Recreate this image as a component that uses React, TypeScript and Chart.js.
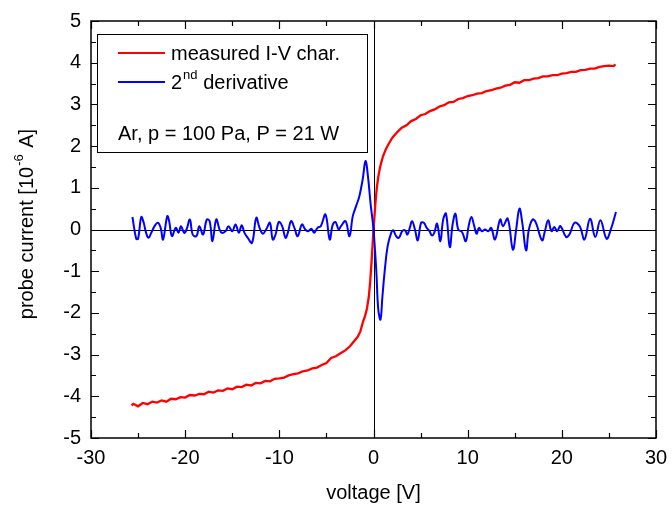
import React, { useEffect, useRef } from "react";
import { Chart, registerables } from "chart.js";

Chart.register(...registerables);

// Measured I-V characteristic (voltage [V], current [1e-6 A])
const ivVoltage = [
  -25.7, -25.5, -25.0, -24.5, -24.0, -23.5, -23.0, -22.5, -22.0, -21.5, -21.0, -20.5, -20.0,
  -19.5, -19.0, -18.5, -18.0, -17.5, -17.0, -16.5, -16.0, -15.5, -15.0, -14.5, -14.0, -13.5,
  -13.0, -12.5, -12.0, -11.5, -11.0, -10.5, -10.0, -9.5, -9.0, -8.5, -8.0, -7.5, -7.0, -6.5,
  -6.0, -5.5, -5.0, -4.5, -4.0, -3.5, -3.0, -2.5, -2.0, -1.7, -1.4, -1.1, -0.9, -0.7, -0.5,
  -0.35, -0.2, -0.1, 0.0, 0.1, 0.2, 0.35, 0.5, 0.7, 1.0, 1.3, 1.6, 2.0, 2.5, 3.0, 3.5, 4.0,
  4.5, 5.0, 5.5, 6.0, 6.5, 7.0, 7.5, 8.0, 8.5, 9.0, 9.5, 10.0, 10.5, 11.0, 11.5, 12.0, 12.5,
  13.0, 13.5, 14.0, 14.5, 15.0, 15.5, 16.0, 16.5, 17.0, 17.5, 18.0, 18.5, 19.0, 19.5, 20.0,
  20.5, 21.0, 21.5, 22.0, 22.5, 23.0, 23.5, 24.0, 24.5, 25.0, 25.5, 25.7,
];
const ivCurrent = [
  -4.22, -4.18, -4.24, -4.16, -4.19, -4.13, -4.15, -4.1, -4.13, -4.06, -4.07, -4.02, -4.03,
  -3.97, -3.98, -3.94, -3.95, -3.89, -3.91, -3.86, -3.87, -3.81, -3.83, -3.77, -3.78, -3.72,
  -3.74, -3.68, -3.69, -3.63, -3.64, -3.58, -3.57, -3.55, -3.5, -3.47, -3.45, -3.4, -3.38, -3.33,
  -3.31, -3.25, -3.2, -3.08, -3.04, -2.97, -2.9, -2.8, -2.66, -2.58, -2.45, -2.2, -2.08, -1.9, -1.62,
  -1.25, -0.75, -0.38, 0.0, 0.3, 0.62, 1.0, 1.25, 1.5, 1.75, 1.92, 2.05, 2.2, 2.33, 2.44, 2.5, 2.6,
  2.65, 2.74, 2.77, 2.84, 2.88, 2.95, 2.98, 3.05, 3.06, 3.13, 3.15, 3.2, 3.22, 3.26, 3.27, 3.32, 3.34,
  3.38, 3.4, 3.45, 3.47, 3.53, 3.52, 3.58, 3.58, 3.62, 3.63, 3.67, 3.67, 3.7, 3.7, 3.74,
  3.75, 3.78, 3.78, 3.82, 3.83, 3.86, 3.86, 3.9, 3.92, 3.93, 3.92, 3.96,
];

// Second derivative (scaled)
const d2Voltage = [
  -25.6, -25.2, -25.0, -24.66, -24.4, -24.2, -23.9, -23.6, -23.25, -22.9, -22.6, -22.35, -21.9,
  -21.7, -21.4, -21.0, -20.7, -20.45, -20.1, -19.85, -19.5, -19.2, -18.8, -18.5, -18.1, -17.7,
  -17.4, -17.1, -16.7, -16.35, -16.1, -15.7, -15.4, -15.0, -14.65, -14.3, -14.0, -13.7, -13.35,
  -12.9, -12.45, -12.1, -11.75, -11.4, -11.0, -10.7, -10.4, -10.05, -9.7, -9.35, -9.1, -8.75,
  -8.4, -8.05, -7.6, -7.25, -6.95, -6.6, -6.3, -5.95, -5.6, -5.1, -4.65, -4.35, -4.05, -3.85,
  -3.7, -3.45, -2.97, -2.55, -2.2, -1.85, -1.5, -1.15, -0.85, -0.6, -0.3, 0.0, 0.3, 0.5, 0.74,
  0.95, 1.17, 1.5, 1.88, 2.1, 2.4, 2.7, 3.05, 3.35, 3.6, 3.85, 4.1, 4.4, 4.7, 5.05, 5.35, 5.65,
  5.95, 6.2, 6.45, 6.75, 7.1, 7.4, 7.7, 8.1, 8.4, 8.7, 9.0, 9.4, 9.8, 10.1, 10.4, 10.7, 10.95,
  11.2, 11.5, 11.85, 12.2, 12.5, 12.9, 13.45, 13.75, 14.25, 14.8, 15.15, 15.5, 15.8, 16.2, 16.5,
  16.9, 17.25, 17.9, 18.2, 18.55, 18.9, 19.2, 19.5, 19.85, 20.45, 20.8, 21.35, 21.9, 22.4, 23.0,
  23.55, 24.1, 24.75, 25.2, 25.75,
];
const d2Value = [
  0.3, -0.22, -0.22, 0.3, 0.16, -0.04, -0.2, -0.08, 0.08, 0.16, 0.04, -0.24, 0.32,
  0.2, -0.16, 0.04, -0.08, 0.08, -0.08, 0.0, 0.24, -0.12, -0.16, 0.08, -0.12, 0.24,
  0.2, -0.28, 0.24, 0.0, -0.08, -0.04, 0.08, -0.04, 0.12, -0.08, 0.1, -0.08, -0.2,
  -0.32, 0.28, 0.04, -0.1, 0.0, 0.16, -0.24, -0.12, 0.18, 0.08, -0.2, -0.08, 0.2,
  0.04, -0.16, 0.12, 0.0, -0.04, 0.02, -0.08, 0.04, 0.08, 0.36, -0.24, 0.1, 0.18, 0.08,
  0.0, 0.08, 0.2, -0.16, 0.32, 0.56, 0.8, 1.2, 1.64, 1.3, 0.6, 0.0, -1.0, -1.9, -2.16,
  -1.6, -1.04, -0.4, -0.08, -0.02, -0.16, -0.2, -0.04, -0.02, -0.12, 0.04, 0.2, 0.0, -0.26, 0.16, 0.16, 0.04,
  -0.04, -0.14, -0.08, 0.14, -0.28, 0.24, 0.38, -0.42, 0.12, 0.38, 0.0, -0.06, -0.28, 0.08, 0.3, 0.08, -0.1,
  0.04, -0.04, 0.0, -0.04, 0.04, -0.24, 0.24, 0.08, 0.26, -0.48, 0.0, 0.5, 0.16, -0.5, 0.0,
  0.24, 0.16, -0.26, -0.04, 0.22, -0.04, 0.06, -0.04, 0.08, -0.18, -0.12, 0.16, 0.08, -0.24, 0.26,
  -0.18, 0.22, -0.22, 0.0, 0.42,
];

const xTickValues = [-30, -20, -10, 0, 10, 20, 30];
const yTickValues = [-5, -4, -3, -2, -1, 0, 1, 2, 3, 4, 5];
const legendLabels = ["measured I-V char.", "2", "nd", " derivative"];
const conditionText = "Ar, p = 100 Pa, P = 21 W";
const xTitle = "voltage [V]";
const yTitleParts = ["probe current [10", "-6", " A]"];

const FONT = "'Liberation Sans', Arial, sans-serif";

const decorPlugin = {
  id: "decor",
  beforeDatasetsDraw(chart: any) {
    const { ctx, chartArea: a, scales } = chart;
    const xs = scales.x, ys = scales.y;
    ctx.save();
    ctx.strokeStyle = "#000";
    ctx.lineWidth = 1;
    const x0 = Math.round(xs.getPixelForValue(0)) + 0.5;
    const y0 = Math.round(ys.getPixelForValue(0)) + 0.5;
    ctx.beginPath();
    ctx.moveTo(x0, a.top);
    ctx.lineTo(x0, a.bottom);
    ctx.moveTo(a.left, y0);
    ctx.lineTo(a.right, y0);
    ctx.stroke();
    ctx.restore();
  },
  afterDatasetsDraw(chart: any) {
    const { ctx, chartArea: a, scales } = chart;
    const xs = scales.x, ys = scales.y;
    ctx.save();
    ctx.strokeStyle = "#000";
    ctx.lineWidth = 1.5;
    ctx.strokeRect(a.left, a.top, a.right - a.left, a.bottom - a.top);
    ctx.lineWidth = 1.2;
    ctx.beginPath();
    for (let v = xs.min; v <= xs.max + 1e-9; v += 5) {
      const major = Math.abs(v % 10) < 1e-9;
      const len = major ? 8 : 5;
      const px = Math.round(xs.getPixelForValue(v)) + 0.5;
      ctx.moveTo(px, a.bottom);
      ctx.lineTo(px, a.bottom - len);
      ctx.moveTo(px, a.top);
      ctx.lineTo(px, a.top + len);
    }
    for (let v = ys.min; v <= ys.max + 1e-9; v += 0.5) {
      const major = Math.abs(v % 1) < 1e-9;
      const len = major ? 8 : 5;
      const py = Math.round(ys.getPixelForValue(v)) + 0.5;
      ctx.moveTo(a.left, py);
      ctx.lineTo(a.left + len, py);
      ctx.moveTo(a.right, py);
      ctx.lineTo(a.right - len, py);
    }
    ctx.stroke();

    // legend box
    const bx = 97, by = 34, bw = 270, bh = 118;
    ctx.fillStyle = "#fff";
    ctx.fillRect(bx, by, bw, bh);
    ctx.lineWidth = 1;
    ctx.strokeRect(bx + 0.5, by + 0.5, bw, bh);
    ctx.lineWidth = 2;
    ctx.strokeStyle = "#ff0000";
    ctx.beginPath();
    ctx.moveTo(118, 53);
    ctx.lineTo(165, 53);
    ctx.stroke();
    ctx.strokeStyle = "#0000ff";
    ctx.beginPath();
    ctx.moveTo(118, 82);
    ctx.lineTo(165, 82);
    ctx.stroke();
    ctx.fillStyle = "#000";
    ctx.textBaseline = "middle";
    ctx.textAlign = "left";
    ctx.font = `20px ${FONT}`;
    ctx.fillText(legendLabels[0], 171, 54);
    ctx.fillText(legendLabels[1], 171, 83);
    const w2 = ctx.measureText(legendLabels[1]).width;
    ctx.font = `13px ${FONT}`;
    ctx.fillText(legendLabels[2], 171 + w2 + 1, 75);
    const wnd = ctx.measureText(legendLabels[2]).width;
    ctx.font = `20px ${FONT}`;
    ctx.fillText(legendLabels[3], 171 + w2 + 1 + wnd, 83);
    ctx.fillText(conditionText, 118, 134);

    // x title
    ctx.textAlign = "center";
    ctx.fillText(xTitle, (a.left + a.right) / 2, 493);

    // y title with superscript
    ctx.translate(27, 224);
    ctx.rotate(-Math.PI / 2);
    ctx.textAlign = "left";
    ctx.font = `20px ${FONT}`;
    const t1 = ctx.measureText(yTitleParts[0]).width;
    const t3 = ctx.measureText(yTitleParts[2]).width;
    ctx.font = `13px ${FONT}`;
    const t2 = ctx.measureText(yTitleParts[1]).width;
    const total = t1 + t2 + t3 + 2;
    let cx = -total / 2;
    ctx.font = `20px ${FONT}`;
    ctx.fillText(yTitleParts[0], cx, 0);
    cx += t1 + 1;
    ctx.font = `13px ${FONT}`;
    ctx.fillText(yTitleParts[1], cx, -8);
    cx += t2 + 1;
    ctx.font = `20px ${FONT}`;
    ctx.fillText(yTitleParts[2], cx, 0);
    ctx.restore();
  },
};

export default function App() {
  const ref = useRef<HTMLCanvasElement | null>(null);
  useEffect(() => {
    if (!ref.current) return;
    const ivData = ivVoltage.map((v, i) => ({ x: v, y: ivCurrent[i] }));
    const d2Data = d2Voltage.map((v, i) => ({ x: v, y: d2Value[i] }));
    const chart = new Chart(ref.current, {
      type: "scatter",
      data: {
        datasets: [
          {
            label: "2nd derivative",
            data: d2Data,
            showLine: true,
            borderColor: "#0000ff",
            borderWidth: 2,
            pointRadius: 0,
            tension: 0.4,
            order: 1,
          },
          {
            label: "measured I-V char.",
            data: ivData,
            showLine: true,
            borderColor: "#ff0000",
            borderWidth: 2.3,
            pointRadius: 0,
            tension: 0,
            order: 2,
          },
        ],
      },
      options: {
        responsive: false,
        animation: false,
        devicePixelRatio: 1,
        layout: { padding: { top: 21, right: 16, left: 0, bottom: 0 } },
        plugins: { legend: { display: false }, tooltip: { enabled: false } },
        scales: {
          x: {
            type: "linear",
            min: -30,
            max: 30,
            afterFit: (s: any) => {
              s.height = 69;
              s.paddingLeft = 0;
              s.paddingRight = 0;
            },
            afterBuildTicks: (s: any) => {
              s.ticks = xTickValues.map((v) => ({ value: v }));
            },
            grid: { display: false, drawTicks: false },
            border: { display: false },
            ticks: {
              padding: 8,
              color: "#000",
              font: { family: FONT, size: 20 },
              maxRotation: 0,
            },
          },
          y: {
            type: "linear",
            min: -5,
            max: 5,
            afterFit: (s: any) => {
              s.width = 91;
              s.paddingTop = 0;
              s.paddingBottom = 0;
            },
            afterBuildTicks: (s: any) => {
              s.ticks = yTickValues.map((v) => ({ value: v }));
            },
            grid: { display: false, drawTicks: false },
            border: { display: false },
            ticks: {
              padding: 10,
              color: "#000",
              font: { family: FONT, size: 20 },
            },
          },
        },
      },
      plugins: [decorPlugin],
    });
    return () => chart.destroy();
  }, []);
  return (
    <div style={{ position: "absolute", left: 0, top: 0, width: 672, height: 507, background: "#fff" }}>
      <canvas ref={ref} width={672} height={507} style={{ display: "block" }} />
    </div>
  );
}
